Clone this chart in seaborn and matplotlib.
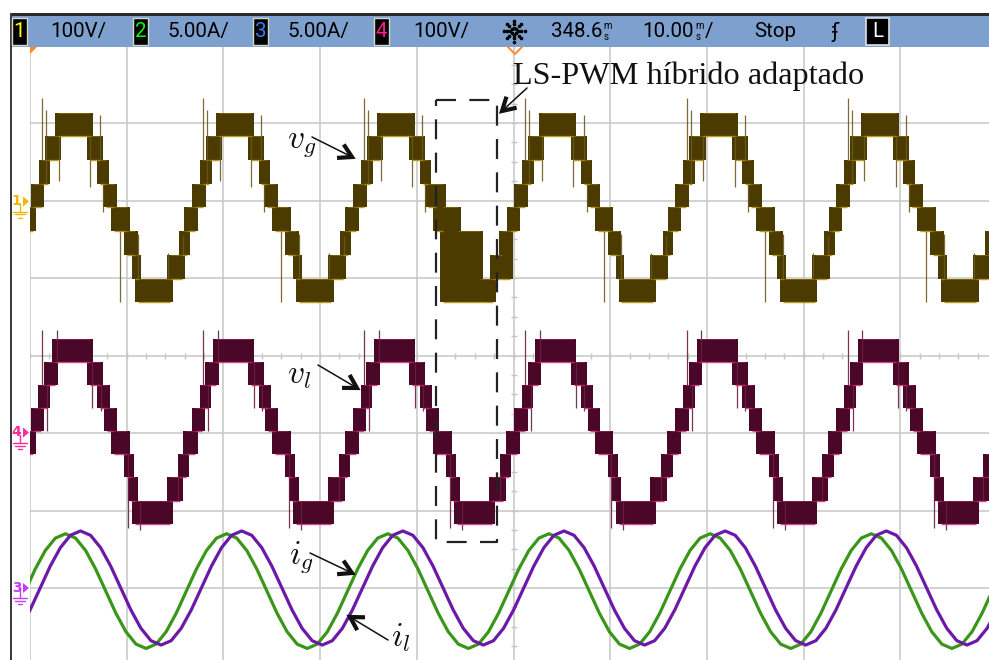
import numpy as np
import matplotlib
matplotlib.use("Agg")
import matplotlib.pyplot as plt
import seaborn as sns
from matplotlib.patches import Rectangle, Polygon
from matplotlib.lines import Line2D

# ------------------------------------------------------------------ data
# channel settings (units per division, screen offset in divisions)
ch_ids = ["1", "2", "3", "4"]
ch_scale_text = ["100V/", "5.00A/", "5.00A/", "100V/"]
ch_colors = ["#ffff00", "#00ff00", "#3a78ff", "#ff1c8c"]
ch1_V_per_div, ch2_A_per_div, ch3_A_per_div, ch4_V_per_div = 100.0, 5.0, 5.0, 100.0
ch1_offset_div, ch2_offset_div, ch3_offset_div, ch4_offset_div = 2.0, -3.0, -3.0, -1.0
delay_text = "348.6"
timebase_text = "10.00"
run_text = "Stop"

# v_g : multilevel staircase (level step in volts, band edges per cycle in ms)
vg_level_V = 30.6
vg_dc_V = -9.0
vg_zero_ms = [-16.31, 0.36, 17.03, 33.69, 50.36, 67.03, 83.69]
vg_edges_ms = [0.0, 0.83, 1.45, 2.53, 5.84, 6.90, 7.50, 8.33,
               9.67, 10.50, 10.80, 14.10, 15.36, 15.87, 16.67]
vg_band_low = [0, 1, 2, 3, 2, 1, 0, -1, -2, -3, -4, -3, -2, -1]
# switching spikes (ms after cycle zero, from level, to level)
vg_spike_ms = [0.88, 1.29, 2.60, 5.84, 6.88, 7.20, 8.95, 10.80, 13.9, 15.46]
vg_spike_from = [2, 1, 3, 3, 2, 1, -1, -3, -3, -2]
vg_spike_to = [4.6, 4.1, 1.1, 0.85, 3.9, -0.2, -4.0, -1.1, -1.9, -1.2]
# adapted hybrid LS-PWM half cycle (inside the dashed box)
vg_box_zero_ms = 33.69
vg_box_edges_ms = [8.33, 9.00, 10.55, 12.82, 14.17, 15.10, 15.93, 16.67]
vg_box_low = [-1, -4, -4, -4, -3, -3, -1]
vg_box_high = [1, 0, -1, -3, -2, -1, 0]

# v_l : multilevel staircase
vl_level_V = 29.7
vl_dc_V = 2.0
vl_zero_ms = [-16.31, 0.36, 17.03, 33.69, 50.36, 67.03, 83.69]
vl_edges_ms = [0.0, 0.80, 1.40, 2.20, 5.85, 6.90, 7.60, 8.33,
               9.67, 10.10, 10.50, 14.10, 15.20, 15.80, 16.67]
vl_band_low = [0, 1, 2, 3, 2, 1, 0, -1, -2, -3, -4, -3, -2, -1]
vl_spike_ms = [0.88, 1.40, 2.40, 6.10, 6.95, 9.77, 11.0, 14.9]
vl_spike_from = [2, 2, 3, 3, 2, -1, -3, -3]
vl_spike_to = [4.4, 0.0, 4.4, 1.0, 0.9, -4.2, -4.3, -1.8]

# currents (A), sampled every 1.0417 ms
cur_step_ms = 1.0417
ig_start_ms = -0.50
ig_A = [-0.20, 1.22, 2.42, 3.22, 3.50, 3.22, 2.42, 1.22, -0.20, -1.62, -2.82, -3.62, -3.90, -3.62, -2.82, -1.62,
        -0.20, 1.22, 2.42, 3.22, 3.50, 3.22, 2.42, 1.22, -0.20, -1.62, -2.82, -3.62, -3.90, -3.62, -2.82, -1.62,
        -0.20, 1.22, 2.42, 3.22, 3.50, 3.22, 2.42, 1.22, -0.20, -1.62, -2.82, -3.62, -3.90, -3.62, -2.82, -1.62,
        -0.20, 1.22, 2.42, 3.22, 3.50, 3.22, 2.42, 1.22, -0.20, -1.62, -2.82, -3.62, -3.90, -3.62, -2.82, -1.62,
        -0.20, 1.22, 2.42, 3.22, 3.50, 3.22, 2.42, 1.22, -0.20, -1.62, -2.82, -3.62, -3.90, -3.62, -2.82, -1.62,
        -0.20, 1.22, 2.42, 3.22, 3.50, 3.22, 2.42, 1.22, -0.20, -1.62, -2.82, -3.62, -3.90, -3.62, -2.82, -1.62,
        -0.20, 1.22]
il_start_ms = -1.03
il_A = [-2.60, -1.41, 0.00, 1.41, 2.60, 3.40, 3.68, 3.40, 2.60, 1.41, 0.00, -1.41, -2.60, -3.40, -3.68, -3.40,
        -2.60, -1.41, 0.00, 1.41, 2.60, 3.40, 3.68, 3.40, 2.60, 1.41, 0.00, -1.41, -2.60, -3.40, -3.68, -3.40,
        -2.60, -1.41, 0.00, 1.41, 2.60, 3.40, 3.68, 3.40, 2.60, 1.41, 0.00, -1.41, -2.60, -3.40, -3.68, -3.40,
        -2.60, -1.41, 0.00, 1.41, 2.60, 3.40, 3.68, 3.40, 2.60, 1.41, 0.00, -1.41, -2.60, -3.40, -3.68, -3.40,
        -2.60, -1.41, 0.00, 1.41, 2.60, 3.40, 3.68, 3.40, 2.60, 1.41, 0.00, -1.41, -2.60, -3.40, -3.68, -3.40,
        -2.60, -1.41, 0.00, 1.41, 2.60, 3.40, 3.68, 3.40, 2.60, 1.41, 0.00, -1.41, -2.60, -3.40, -3.68, -3.40,
        -2.60, -1.41]

annot_text = "LS-PWM híbrido adaptado"

# ------------------------------------------------------------------ style
sns.set_style("white")
plt.rcParams["font.family"] = ["DejaVu Sans"]
plt.rcParams["mathtext.fontset"] = "cm"

W, H = 989, 660
fig = plt.figure(figsize=(W / 100, H / 100), dpi=100)
fig.patch.set_facecolor("white")


def fx(x):
    return x / W


def fy(y):
    return 1 - y / H


ax_l, ax_r, ax_t, ax_b = 30.0, 997.0, 45.5, 665.5
ax = fig.add_axes([fx(ax_l), fy(ax_b), (ax_r - ax_l) / W, (ax_b - ax_t) / H])
ax.set_xlim(0, 100)
ax.set_ylim(-4, 4)
for s in ax.spines.values():
    s.set_visible(False)
grid_c = "#c6c6c6"
ax.set_xticks(np.arange(0, 101, 10))
ax.set_yticks(np.arange(-4, 5, 1))
ax.tick_params(length=0, labelbottom=False, labelleft=False)
ax.grid(True, color=grid_c, lw=1.1)
ax.set_axisbelow(True)
# minor ticks on the centre axes
ax.plot(np.arange(0, 101, 2), np.zeros(51), ls="none", marker="|", ms=4, mew=1, color=grid_c, zorder=1)
ax.plot(np.full(33, 50.0), np.arange(-4, 4.01, 0.25), ls="none", marker="_", ms=4, mew=1, color=grid_c, zorder=1)


# ------------------------------------------------------------------ staircase traces
def build_segments(zeros, edges, low, high=None, skip=None):
    segs = []
    for z in zeros:
        for i in range(len(low)):
            t0 = z + edges[i]
            if skip is not None and abs(z - skip[0]) < 1e-6 and edges[i] >= skip[1] - 1e-6:
                continue
            hi = low[i] + 1 if high is None else high[i]
            segs.append((t0, z + edges[i + 1], low[i], hi))
    return segs


def draw_stair(segs, level, dc, scale, offset, fill_c, hl_c, overlap=0.3):
    for t0, t1, a, b in segs:
        ylo = offset + (dc + a * level) / scale
        yhi = offset + (dc + b * level) / scale
        ax.fill_between([t0 - overlap, t1 + overlap], [ylo, ylo], [yhi, yhi],
                        color=fill_c, lw=0, zorder=3)
        ax.hlines([ylo], t0, t1, color=hl_c, lw=1.0, alpha=0.85, zorder=4)
        ax.hlines([yhi], t0, t1, color=hl_c, lw=0.6, alpha=0.55, zorder=4)


def draw_spikes(zeros, times, f, t, level, dc, scale, offset, color, skip_window=None):
    xs, y0, y1 = [], [], []
    for z in zeros:
        for tm, a, b in zip(times, f, t):
            x = z + tm
            if skip_window is not None and skip_window[0] <= x <= skip_window[1]:
                continue
            xs.append(x)
            y0.append(offset + (dc + a * level) / scale)
            y1.append(offset + (dc + b * level) / scale)
    ax.vlines(xs, y0, y1, color=color, lw=0.9, alpha=0.9, zorder=3)


vg_segs = build_segments(vg_zero_ms, vg_edges_ms, vg_band_low, skip=(vg_box_zero_ms, 8.33))
vg_segs += build_segments([vg_box_zero_ms], vg_box_edges_ms, vg_box_low, vg_box_high)
draw_stair(vg_segs, vg_level_V, vg_dc_V, ch1_V_per_div, ch1_offset_div, "#4b3b00", "#b38c00")
draw_spikes(vg_zero_ms, vg_spike_ms, vg_spike_from, vg_spike_to, vg_level_V, vg_dc_V,
            ch1_V_per_div, ch1_offset_div, "#6a5a20", skip_window=(vg_box_zero_ms + 8.33, vg_box_zero_ms + 16.67))

vl_segs = build_segments(vl_zero_ms, vl_edges_ms, vl_band_low)
draw_stair(vl_segs, vl_level_V, vl_dc_V, ch4_V_per_div, ch4_offset_div, "#4b0728", "#c92a78")
draw_spikes(vl_zero_ms, vl_spike_ms, vl_spike_from, vl_spike_to, vl_level_V, vl_dc_V,
            ch4_V_per_div, ch4_offset_div, "#6a2040")

# ------------------------------------------------------------------ currents
t_ig = ig_start_ms + cur_step_ms * np.arange(len(ig_A))
t_il = il_start_ms + cur_step_ms * np.arange(len(il_A))
sns.lineplot(x=t_ig, y=ch2_offset_div + np.array(ig_A) / ch2_A_per_div, ax=ax,
             color="#3a961a", lw=2.3, estimator=None, sort=False, zorder=5)
sns.lineplot(x=t_il, y=ch3_offset_div + np.array(il_A) / ch3_A_per_div, ax=ax,
             color="#6c18a8", lw=2.3, estimator=None, sort=False, zorder=6)


# ------------------------------------------------------------------ screen decorations
def fig_line(xs, ys, **kw):
    ln = Line2D([fx(x) for x in xs], [fy(y) for y in ys], transform=fig.transFigure, **kw)
    fig.add_artist(ln)
    return ln


def fig_rect(x, y, w, h, **kw):
    r = Rectangle((fx(x), fy(y + h)), w / W, h / H, transform=fig.transFigure, **kw)
    fig.add_artist(r)
    return r


# header bar
fig_rect(10, 16, W - 10, 31, facecolor="#7da0cf", edgecolor="none", zorder=10)
fig_rect(10, 13, W - 10, 3, facecolor="#2a2a2a", edgecolor="none", zorder=10)
fig_rect(9.5, 13, 2, H - 13, facecolor="#3c3c3c", edgecolor="none", zorder=10)

HF = "Roboto"
hdr_font = dict(fontsize=14.8, va="center", ha="left", family=HF, zorder=12)
small_font = dict(fontsize=7.0, va="center", ha="left", family=HF, zorder=12, color="black")
box_x = [12, 133, 253, 374]
txt_x = [50, 167, 287, 413]
for cid, ctext, ccol, bx, tx in zip(ch_ids, ch_scale_text, ch_colors, box_x, txt_x):
    fig_rect(bx, 18, 15, 27, facecolor="black", edgecolor="#d8d8c8", lw=1.0, zorder=11)
    fig.text(fx(bx + 7.5), fy(31.5), cid, color=ccol, fontsize=14.8, family=HF,
             ha="center", va="center", zorder=12)
    fig.text(fx(tx), fy(31.5), ctext, color="black", **hdr_font)

# acquisition sunburst icon
cx, cy = 514, 31
for a in np.arange(0, 360, 45):
    for r in (3.5, 7.0, 10.5):
        fig_line([cx + r * np.cos(np.radians(a))], [cy + r * np.sin(np.radians(a))],
                 ls="none", marker="o", ms=1.6, color="black", zorder=12)
fig.text(fx(551), fy(31.5), delay_text, color="black", **hdr_font)
fig.text(fx(603), fy(26), "m", **small_font)
fig.text(fx(604), fy(36.5), "s", **small_font)
fig.text(fx(642), fy(31.5), timebase_text, color="black", **hdr_font)
fig.text(fx(695), fy(26), "m", **small_font)
fig.text(fx(696), fy(36.5), "s", **small_font)
fig.text(fx(705), fy(31.5), "/", color="black", **hdr_font)
fig.text(fx(754), fy(31.5), run_text, color="black", **hdr_font)
fig.text(fx(835), fy(31.5), "ʄ", color="black", fontsize=15, ha="center", va="center", zorder=12)
fig_rect(866, 18, 23, 27, facecolor="black", edgecolor="#e0e0e0", lw=1.2, zorder=11)
fig.text(fx(877.5), fy(31.5), "L", color="white", fontsize=14.8, family=HF,
         ha="center", va="center", zorder=12)

# trigger markers
fig.add_artist(Polygon([(fx(30), fy(47)), (fx(37), fy(47)), (fx(30), fy(54))], closed=True,
                       transform=fig.transFigure, facecolor="#ff8a1e", edgecolor="none", zorder=11))
fig_line([508, 515, 522], [47, 54, 47], color="#ff8a1e", lw=1.4, zorder=11)


# ground markers
def ground_marker(label, y, color):
    fig.text(fx(16.5), fy(y - 0.5), label, color=color, fontsize=10, ha="center", va="center",
             fontweight="bold", zorder=12)
    fig.add_artist(Polygon([(fx(23), fy(y - 5)), (fx(23), fy(y + 5)), (fx(29), fy(y))], closed=True,
                           transform=fig.transFigure, facecolor=color, edgecolor="none", zorder=12))
    fig_line([20, 20], [y + 2, y + 10], color=color, lw=1.0, zorder=12)
    fig_line([13, 27], [y + 10, y + 10], color=color, lw=1.0, zorder=12)
    fig_line([15.5, 24.5], [y + 13, y + 13], color=color, lw=1.0, zorder=12)
    fig_line([18, 22], [y + 16, y + 16], color=color, lw=1.0, zorder=12)


ground_marker("1", 201.5, "#f2b705")
ground_marker("4", 432.5, "#ff2a9d")
ground_marker("3", 588.0, "#c43cf5")


# ------------------------------------------------------------------ annotations
def arrow(x0, y0, x1, y1, barb=15, ang=30):
    fig_line([x0, x1], [y0, y1], color="#111111", lw=1.1, zorder=13)
    th = np.arctan2(y0 - y1, x0 - x1)
    pts_x, pts_y = [], []
    for s in (1, None, -1):
        if s is None:
            pts_x.append(x1)
            pts_y.append(y1)
            continue
        a = th + s * np.radians(ang)
        pts_x.append(x1 + barb * np.cos(a))
        pts_y.append(y1 + barb * np.sin(a))
    fig_line(pts_x, pts_y, color="#111111", lw=3.0, solid_joinstyle="miter",
             solid_capstyle="butt", zorder=13)


# dashed box
fig_line([436, 497, 497, 436, 436], [100, 100, 542, 542, 100], color="#222222", lw=1.6,
         ls=(0, (9, 6)), zorder=13)
fig.text(fx(513), fy(84), annot_text, family="Liberation Serif", fontsize=23.2, color="#111111",
         ha="left", va="baseline", zorder=13)
arrow(527, 88, 502, 111)

fig.text(fx(287), fy(147), r"$v_g$", fontsize=24, ha="left", va="baseline", color="#111111", zorder=13)
arrow(312, 137, 352, 157)
fig.text(fx(287), fy(383), r"$v_l$", fontsize=24, ha="left", va="baseline", color="#111111", zorder=13)
arrow(318, 365, 357, 388)
fig.text(fx(289), fy(563), r"$i_g$", fontsize=24, ha="left", va="baseline", color="#111111", zorder=13)
arrow(310, 553, 352, 573)
fig.text(fx(391), fy(646), r"$i_l$", fontsize=24, ha="left", va="baseline", color="#111111", zorder=13)
arrow(388, 640, 350, 617)

fig.savefig("out.png", dpi=100)
